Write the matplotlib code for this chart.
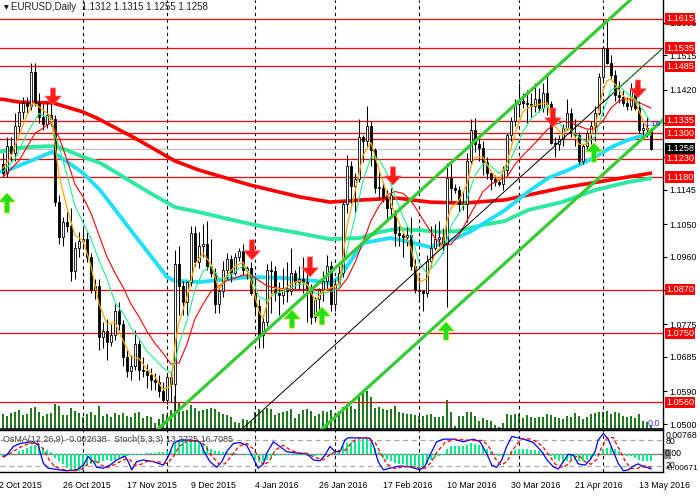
import numpy as np
import matplotlib
matplotlib.use('Agg')
import matplotlib.pyplot as plt
from matplotlib.patches import Rectangle
from matplotlib.transforms import blended_transform_factory as blend

plt.rcParams['font.family'] = ['Liberation Sans', 'DejaVu Sans']

# ---- daily EURUSD candles (bar index 0 = 5 Oct 2015) ----
opens = [1.1215,1.1190,1.1265,1.1245,1.1320,1.1360,1.1385,1.1375,1.1470,1.1385,
         1.1345,1.1325,1.1350,1.1340,1.1110,1.1015,1.1055,1.1045,1.0920,1.0985,
         1.1005,1.1010,1.0960,1.0870,1.0880,1.0740,1.0755,1.0725,1.0745,1.0810,
         1.0775,1.0685,1.0645,1.0660,1.0720,1.0650,1.0645,1.0635,1.0620,1.0615,
         1.0590,1.0565,1.0630,1.0610,1.0940,1.0880,1.0835,1.0890,1.1025,1.0945,
         1.0990,1.0995,1.0935,1.0915,1.0830,1.0865,1.0925,1.0955,1.0915,1.0960,
         1.0975,1.0925,1.0930,1.0860,1.0825,1.0745,1.0780,1.0925,1.0920,1.0860,
         1.0855,1.0875,1.0865,1.0915,1.0890,1.0900,1.0890,1.0875,1.0795,1.0845,
         1.0870,1.0895,1.0935,1.0830,1.0885,1.0915,1.1105,1.1210,1.1155,1.1175,
         1.1290,1.1280,1.1320,1.1255,1.1150,1.1150,1.1125,1.1095,1.1080,1.1025,
         1.1020,1.1015,1.1020,1.0935,1.0870,1.0865,1.0860,1.0950,1.0985,1.1010,
         1.1015,1.0995,1.1178,1.1150,1.1145,1.1105,1.1105,1.1225,1.1310,1.1270,
         1.1260,1.1220,1.1190,1.1175,1.1165,1.1160,1.1200,1.1295,1.1335,1.1380,
         1.1390,1.1385,1.1380,1.1375,1.1395,1.1370,1.1410,1.1380,1.1275,1.1270,
         1.1285,1.1315,1.1355,1.1300,1.1295,1.1225,1.1265,1.1300,1.1320,1.1355,
         1.1455,1.1535,1.1495,1.1460,1.1405,1.1400,1.1385,1.1375,1.1425,1.1370,
         1.1310,1.1315,1.1312]
highs = [1.1245,1.1290,1.1290,1.1355,1.1385,1.1400,1.1400,1.1495,1.1495,1.1410,
         1.1380,1.1385,1.1390,1.1350,1.1130,1.1070,1.1085,1.1095,1.1000,1.1030,
         1.1045,1.1030,1.0970,1.0900,1.0900,1.0780,1.0790,1.0775,1.0830,1.0835,
         1.0785,1.0705,1.0690,1.0760,1.0730,1.0685,1.0665,1.0655,1.0640,1.0635,
         1.0615,1.0640,1.0640,1.0980,1.0990,1.0895,1.0895,1.1045,1.1045,1.1030,
         1.1050,1.1060,1.1010,1.0930,1.0875,1.0950,1.0970,1.0965,1.0970,1.0985,
         1.0995,1.0935,1.0945,1.0905,1.0845,1.0800,1.0940,1.0950,1.0935,1.0890,
         1.0930,1.0945,1.0985,1.0925,1.0935,1.0960,1.0935,1.0885,1.0850,1.0875,
         1.0920,1.0965,1.0950,1.0900,1.0935,1.1115,1.1240,1.1225,1.1190,1.1340,
         1.1295,1.1376,1.1335,1.1260,1.1195,1.1165,1.1145,1.1150,1.1090,1.1045,
         1.1030,1.1045,1.1070,1.0955,1.0905,1.0870,1.0965,1.1045,1.1050,1.1060,
         1.1040,1.1218,1.1220,1.1160,1.1155,1.1140,1.1245,1.1340,1.1342,1.1285,
         1.1280,1.1235,1.1195,1.1185,1.1175,1.1210,1.1300,1.1345,1.1395,1.1440,
         1.1410,1.1420,1.1410,1.1440,1.1425,1.1440,1.1465,1.1390,1.1290,1.1295,
         1.1325,1.1395,1.1370,1.1340,1.1305,1.1270,1.1310,1.1335,1.1375,1.1465,
         1.1540,1.1616,1.1515,1.1475,1.1445,1.1420,1.1400,1.1440,1.1435,1.1390,
         1.1330,1.1345,1.1315]
lows = [1.1180,1.1180,1.1225,1.1225,1.1300,1.1340,1.1355,1.1365,1.1375,1.1330,
        1.1310,1.1315,1.1320,1.1100,1.0995,1.0990,1.1030,1.0895,1.0900,1.0960,
        1.0985,1.0945,1.0860,1.0845,1.0705,1.0710,1.0675,1.0715,1.0730,1.0760,
        1.0660,1.0630,1.0620,1.0650,1.0620,1.0630,1.0600,1.0595,1.0595,1.0575,
        1.0560,1.0555,1.0560,1.0525,1.0800,1.0800,1.0800,1.0880,1.0935,1.0930,
        1.0960,1.0925,1.0905,1.0805,1.0805,1.0850,1.0900,1.0890,1.0910,1.0950,
        1.0910,1.0900,1.0855,1.0800,1.0710,1.0710,1.0770,1.0805,1.0840,1.0800,
        1.0830,1.0835,1.0855,1.0870,1.0870,1.0860,1.0780,1.0775,1.0780,1.0810,
        1.0840,1.0870,1.0810,1.0810,1.0880,1.0905,1.1080,1.1105,1.1085,1.1165,
        1.1220,1.1265,1.1210,1.1135,1.1120,1.1110,1.1065,1.1070,1.0990,1.0990,
        1.0960,1.0990,1.0925,1.0860,1.0835,1.0810,1.0850,1.0935,1.0980,1.0990,
        1.0970,1.0822,1.1110,1.1135,1.1085,1.1090,1.1055,1.1215,1.1250,1.1225,
        1.1185,1.1175,1.1145,1.1155,1.1155,1.1145,1.1185,1.1280,1.1320,1.1345,
        1.1370,1.1330,1.1345,1.1360,1.1360,1.1360,1.1350,1.1270,1.1235,1.1255,
        1.1265,1.1310,1.1290,1.1265,1.1215,1.1215,1.1255,1.1270,1.1280,1.1350,
        1.1440,1.1490,1.1450,1.1390,1.1385,1.1375,1.1365,1.1365,1.1365,1.1300,
        1.1295,1.1290,1.1255]
closes = [1.1190,1.1265,1.1245,1.1320,1.1360,1.1385,1.1375,1.1470,1.1385,1.1345,
          1.1325,1.1350,1.1340,1.1110,1.1015,1.1055,1.1045,1.0920,1.0985,1.1005,
          1.1010,1.0960,1.0870,1.0880,1.0740,1.0755,1.0725,1.0745,1.0810,1.0775,
          1.0685,1.0645,1.0660,1.0720,1.0650,1.0645,1.0635,1.0620,1.0615,1.0590,
          1.0565,1.0630,1.0610,1.0940,1.0880,1.0835,1.0890,1.1025,1.0945,1.0990,
          1.0995,1.0935,1.0915,1.0830,1.0865,1.0925,1.0955,1.0915,1.0960,1.0975,
          1.0925,1.0930,1.0860,1.0825,1.0745,1.0780,1.0925,1.0920,1.0860,1.0855,
          1.0875,1.0865,1.0915,1.0890,1.0900,1.0890,1.0875,1.0795,1.0845,1.0870,
          1.0895,1.0935,1.0830,1.0885,1.0915,1.1105,1.1210,1.1155,1.1175,1.1290,
          1.1280,1.1320,1.1255,1.1150,1.1150,1.1125,1.1095,1.1130,1.1025,1.1020,
          1.1015,1.1020,1.0935,1.0870,1.0865,1.0860,1.0950,1.0985,1.1010,1.1015,
          1.0995,1.1178,1.1150,1.1145,1.1105,1.1105,1.1225,1.1310,1.1270,1.1260,
          1.1220,1.1190,1.1175,1.1165,1.1160,1.1200,1.1295,1.1335,1.1380,1.1390,
          1.1385,1.1380,1.1375,1.1395,1.1370,1.1410,1.1380,1.1275,1.1270,1.1285,
          1.1315,1.1355,1.1300,1.1295,1.1225,1.1265,1.1300,1.1320,1.1355,1.1455,
          1.1535,1.1495,1.1460,1.1405,1.1400,1.1385,1.1375,1.1425,1.1370,1.1310,
          1.1315,1.1312,1.1258]
volumes = [150,130,160,170,190,140,150,210,220,170,130,150,160,250,230,140,140,210,180,160,
           120,150,170,140,230,130,150,120,160,140,160,130,120,160,170,110,130,120,60,100,
           150,140,190,330,270,180,190,240,210,180,190,200,210,200,170,150,140,120,70,60,
           100,90,80,170,200,180,210,200,140,160,170,180,200,110,150,190,200,180,130,150,
           180,170,190,150,180,220,250,230,200,330,380,380,320,210,220,200,190,200,230,170,
           160,150,150,140,130,130,140,150,120,120,130,290,170,30,130,130,170,170,130,80,
           110,90,80,40,20,60,150,140,150,150,110,140,120,110,120,120,150,140,120,110,
           100,130,120,160,130,100,120,150,160,170,170,180,150,170,160,130,120,130,110,150,
           80,70,40]
osma = [-0.0006,-0.0004,-0.0002,0.0001,0.0009,0.0015,0.0021,0.0027,0.0033,0.0029,
        0.0021,0.0013,0.0006,-0.0014,-0.0026,-0.0037,-0.0049,-0.0055,-0.0061,-0.0061,
        -0.0055,-0.0043,-0.0037,-0.0037,-0.0032,-0.0026,-0.0020,-0.0023,-0.0020,-0.0014,
        -0.0014,-0.0008,-0.0005,-0.0002,-0.0005,-0.0002,0.0004,0.0005,0.0005,0.0006,
        0.0007,0.0009,0.0013,0.0039,0.0050,0.0053,0.0050,0.0050,0.0048,0.0044,
        0.0039,0.0027,0.0018,0.0012,0.0009,0.0007,0.0006,0.0004,0.0004,0.0001,
        0.0001,-0.0002,-0.0008,-0.0020,-0.0029,-0.0026,-0.0020,-0.0011,-0.0006,-0.0004,
        -0.0004,-0.0004,-0.0004,-0.0002,-0.0002,-0.0005,-0.0006,-0.0006,-0.0006,-0.0005,
        -0.0002,0.0001,0.0004,0.0006,0.0009,0.0027,0.0039,0.0044,0.0050,0.0053,
        0.0054,0.0053,0.0044,0.0021,0.0007,-0.0014,-0.0020,-0.0026,-0.0032,-0.0034,
        -0.0037,-0.0041,-0.0046,-0.0049,-0.0053,-0.0049,-0.0037,-0.0022,-0.0014,-0.0008,
        -0.0005,0.0018,0.0027,0.0029,0.0029,0.0027,0.0033,0.0039,0.0036,0.0033,
        0.0027,0.0018,0.0009,0.0001,-0.0006,-0.0008,-0.0002,0.0009,0.0015,0.0018,
        0.0018,0.0018,0.0015,0.0013,0.0009,0.0006,0.0001,-0.0008,-0.0018,-0.0026,
        -0.0029,-0.0026,-0.0020,-0.0022,-0.0026,-0.0026,-0.0022,-0.0018,-0.0008,0.0004,
        0.0018,0.0021,0.0025,0.0018,0.0009,0.0001,-0.0006,-0.0008,-0.0014,-0.0020,
        -0.0023,-0.0026,-0.0026]

# ---- moving averages, read at a few bars ----
ma_red_bars = [-0.75,4.25,12.5,20,23.5,32.5,37,43,49,61.75,74.25,81.75,90,98.5,106.75,115,125.5,139.75,162.25]
ma_red_vals = [1.1395,1.1386,1.1384,1.1359,1.1342,1.1290,1.1262,1.1224,1.1199,1.1158,1.1125,1.1111,
               1.1117,1.1122,1.1111,1.1108,1.1117,1.1150,1.1191]
ma_cyan_bars = [-0.75,1.25,7.5,12.25,13.5,20,24.25,32.5,41,43,49.25,61.75,70,78,81.75,84.25,86.75,
                90,96.75,101.75,106.75,111,116.75,125.5,131.25,136.25,141.25,145.5,148,152.25,156.25,160.5,162.25]
ma_cyan_vals = [1.1194,1.1199,1.1227,1.1249,1.1241,1.1191,1.1144,1.1026,1.0905,1.0894,1.0891,1.0905,
                1.0902,1.0894,1.0888,1.0905,1.0946,1.0998,1.1012,1.1001,1.0987,1.1001,1.1029,1.1089,
                1.1139,1.1177,1.1199,1.1221,1.1235,1.1263,1.1282,1.1296,1.1301]
ma_spring_bars = [-0.75,3.5,7.5,11.75,13.5,16,20,24.25,28.5,32.5,36.75,43,48.75,57.25,65.5,73.75,
                  81.75,89.25,94.25,98.5,103.5,109.25,113.5,120,125.5,131.25,139.75,148,156.25,162.25]
ma_spring_vals = [1.1249,1.1260,1.1263,1.1265,1.1263,1.1254,1.1235,1.1219,1.1191,1.1164,1.1136,1.1097,
                  1.1084,1.1062,1.1042,1.1026,1.1009,1.1012,1.1029,1.1037,1.1034,1.1029,1.1031,1.1048,
                  1.1059,1.1089,1.1111,1.1144,1.1166,1.1177]
orange_bars = [0,2,4,6,7.5,10,12,13,14,16,18,20,22,24,26,28,30,32,34,36,38,40,42,43,44,46,48,50,52,54,
               56,58,60,62,64,65,66,68,70,72,74,76,78,80,82,84,85,86,88,90,92,94,96,98,100,102,104,106,
               108,110,111,112,114,116,117,118,120,122,124,126,127,128,130,132,134,136,137,138,140,141,
               142,144,146,148,149,150,151,152,154,156,157,158,160,162]
orange_vals = [1.1205,1.1235,1.1295,1.1350,1.1385,1.1365,1.1345,1.1270,1.1185,1.1095,1.1020,1.1005,
               1.0935,1.0830,1.0775,1.0780,1.0730,1.0685,1.0680,1.0650,1.0630,1.0595,1.0605,1.0720,
               1.0780,1.0850,1.0940,1.0970,1.0940,1.0870,1.0910,1.0935,1.0945,1.0895,1.0810,1.0790,
               1.0830,1.0875,1.0870,1.0885,1.0895,1.0885,1.0840,1.0865,1.0875,1.0885,1.0960,1.1045,
               1.1140,1.1240,1.1275,1.1200,1.1135,1.1080,1.1030,1.0985,1.0890,1.0900,1.0970,1.0995,
               1.1060,1.1095,1.1115,1.1160,1.1210,1.1235,1.1235,1.1195,1.1170,1.1220,1.1260,1.1300,
               1.1360,1.1375,1.1380,1.1385,1.1345,1.1320,1.1295,1.1315,1.1310,1.1270,1.1270,1.1320,
               1.1365,1.1420,1.1445,1.1450,1.1420,1.1390,1.1400,1.1390,1.1335,1.1295]
green_bars = [0,3,6,9,12,13,14,16,18,20,22,24,26,28,30,32,34,36,38,40,42,43,44,46,48,50,52,54,56,58,
              60,62,64,66,68,70,72,74,76,78,80,82,84,86,88,90,92,94,96,98,100,102,104,106,108,110,112,
              114,116,118,120,122,124,126,128,130,132,134,136,138,140,142,144,146,148,150,152,154,156,
              158,160,162]
green_vals = [1.1195,1.1230,1.1300,1.1355,1.1340,1.1295,1.1265,1.1185,1.1100,1.1055,1.1010,1.0950,
              1.0900,1.0835,1.0806,1.0765,1.0735,1.0700,1.0678,1.0655,1.0640,1.0670,1.0720,1.0785,
              1.0870,1.0920,1.0935,1.0900,1.0905,1.0920,1.0935,1.0910,1.0850,1.0840,1.0860,1.0865,
              1.0875,1.0885,1.0885,1.0860,1.0860,1.0865,1.0875,1.0980,1.1070,1.1170,1.1235,1.1230,
              1.1190,1.1130,1.1070,1.1025,1.0945,1.0915,1.0940,1.0970,1.1045,1.1080,1.1120,1.1185,
              1.1215,1.1210,1.1190,1.1205,1.1255,1.1305,1.1340,1.1360,1.1375,1.1345,1.1315,1.1310,
              1.1290,1.1275,1.1290,1.1360,1.1420,1.1430,1.1410,1.1395,1.1365,1.1330]
redthin_bars = [0,4,8,12,14,16,18,20,22,24,26,28,30,32,34,36,38,40,42,44,46,48,50,52,54,56,58,60,62,
                64,66,68,72,76,80,84,86,88,90,92,94,96,98,100,102,104,106,108,110,112,114,116,118,120,
                122,124,126,128,130,132,134,136,138,140,142,144,146,148,150,152,154,156,158,160,162]
redthin_vals = [1.1180,1.1225,1.1300,1.1330,1.1290,1.1227,1.1160,1.1125,1.1080,1.1020,1.0960,1.0916,
                1.0877,1.0830,1.0795,1.0755,1.0722,1.0695,1.0665,1.0668,1.0720,1.0790,1.0830,1.0865,
                1.0880,1.0895,1.0902,1.0910,1.0910,1.0895,1.0880,1.0875,1.0870,1.0870,1.0870,1.0872,
                1.0900,1.0945,1.1000,1.1060,1.1100,1.1130,1.1140,1.1135,1.1115,1.1080,1.1045,1.1012,
                1.0990,1.0995,1.1020,1.1060,1.1100,1.1140,1.1160,1.1172,1.1180,1.1215,1.1240,1.1262,
                1.1285,1.1310,1.1325,1.1333,1.1330,1.1320,1.1312,1.1312,1.1335,1.1370,1.1390,1.1395,
                1.1390,1.1380,1.1370]

# ---- stochastic (5,3,3) ----
stoch_bars = [0,0.9,2.6,4.25,7.6,8.8,10.1,11.3,13.4,15.9,18.4,20.1,21.3,22.6,23.4,25.1,26.75,28.4,
              30.5,31.3,32.2,33.4,35.1,37.6,40.1,41.3,42.6,44.25,46.75,49.25,50.5,51.75,53.4,54.7,
              55.9,57.6,59.25,60.9,62.2,63,63.8,65.1,65.9,67.6,69.25,70.9,72.6,74.25,75.9,77.6,79.25,
              80.5,81.75,83,84.25,85.5,86.3,89.25,91.75,92.6,93.8,95.1,96.75,99.25,101.75,104.25,
              105.5,106.75,108.4,110.1,112.6,115.1,117.6,119.25,120.9,122.2,123.4,124.7,125.9,127.2,
              128.8,130.9,132.6,134.7,136,137.6,138.8,140.1,141.3,142.6,143.8,145.5,146.75,148,148.8,
              150.1,151.3,152.6,153.8,155.1,156.3,157.6,158.8,160.1,161,162]
stoch_main = [42,45,65,72,76,68,26,15,12,9,11,22,42,30,17,15,22,34,43,30,11,30,34,30,22,42,72,80,80,
              76,49,30,17,30,53,72,74,68,45,30,15,25,49,76,65,53,51,49,49,34,32,45,65,53,53,80,85,85,
              84,68,30,11,15,20,18,11,20,45,76,82,82,76,82,76,49,22,17,34,65,88,85,80,74,53,34,18,13,
              30,47,45,25,22,34,53,80,95,82,53,26,9,11,20,25,18,17,13.3]
signal_bars = [0,2,4,6,8.5,10,11.5,13,15.5,18,20,21.5,23,24.5,26,28,30,31.5,33,34.5,36,38.5,41,42.5,
               44,46,48.5,50.5,52,54,55.5,57,59,61,62.5,64,65,66.5,68,70,72,74,76,78,80,82,84,85.5,87,
               88.5,91,93,94.5,96,98,100,102,104,105.5,107,108.5,110.5,113,115.5,118,120,121.5,123,
               124.5,126,127.5,129.5,131.5,133.5,135,136.5,138,139.5,141,142.5,144,145.5,147,148.5,
               149.5,151,152.5,154,155.5,157,158.5,160,161,162]
signal_vals = [40,50,62,70,74,60,35,18,11,9,14,28,33,22,16,24,34,36,22,24,31,30,26,40,65,78,79,68,45,
               25,25,42,66,72,60,40,22,30,56,68,56,50,49,40,34,48,56,56,72,84,85,75,48,24,14,18,19,15,
               15,28,52,74,82,80,79,79,64,38,22,30,58,82,83,76,64,45,25,17,22,38,44,30,24,36,60,85,86,
               60,32,14,14,20,20,16.7]

# ---- drawn objects ----
levels = [1.1615, 1.1535, 1.1485, 1.1335, 1.1300, 1.1285, 1.1230, 1.1180, 1.0870, 1.0750, 1.0560]
level_labels = ['1.1615', '1.1535', '1.1485', '1.1335', '1.1300', '', '1.1230', '1.1180', '1.0870', '1.0750', '1.0560']
last_price = 1.1258
price_ticks = [1.0500, 1.0590, 1.0685, 1.0775, 1.0870, 1.0960, 1.1050, 1.1145, 1.1235, 1.1330, 1.1420, 1.1515, 1.1605]
hidden_ticks = [1.0870, 1.1235, 1.1330]   # covered by the level boxes
chan_a = ([38.0, 165.0], [1.0479, 1.1749])
chan_b = ([79.0, 165.0], [1.0479, 1.1337])
chan_mid = ([59.0, 165.0], [1.0479, 1.1535])
red_arrow_bar = [12.5, 62.25, 76.75, 97.5, 137.5, 158.75]
red_arrow_top = [1.1425, 1.1007, 1.0960, 1.1208, 1.1370, 1.1447]
red_arrow_tip = [1.1378, 1.0952, 1.0905, 1.1158, 1.1318, 1.1398]
green_arrow_bar = [1, 72.25, 79.75, 110.75, 147.75]
green_arrow_base = [1.1081, 1.0764, 1.0773, 1.0731, 1.1221]
green_arrow_tip = [1.1136, 1.0814, 1.0822, 1.0781, 1.1274]
month_bars = [20, 41, 63, 83, 104, 129, 150]
date_bars = [-1, 15, 31, 47, 63, 79, 95, 111, 127, 143, 159]
date_labels = ['2 Oct 2015', '26 Oct 2015', '17 Nov 2015', '9 Dec 2015', '4 Jan 2016', '26 Jan 2016',
               '17 Feb 2016', '10 Mar 2016', '30 Mar 2016', '21 Apr 2016', '13 May 2016']

n = len(closes)
assert len(opens) == len(highs) == len(lows) == n == len(volumes) == len(osma)

W, H = 700, 496
fig = plt.figure(figsize=(7, 4.96), dpi=100)
fig.patch.set_facecolor('white')


def fx(px):
    return px / W


def fy(py):
    return 1 - py / H


ax = fig.add_axes([0, fy(429), fx(663), 429 / H])
axv = ax.twinx()
ax.set_zorder(axv.get_zorder() + 1)
ax.patch.set_visible(False)
axv.set_ylim(0, 4290)
axv.axis('off')

x = np.arange(n)
axv.bar(x, volumes, width=0.3, color='#1f7a1f')

ax.set_xlim(-0.75, 165)
ax.set_ylim(1.04863, 1.16673)

for b in month_bars:
    ax.axvline(b, color='black', lw=0.8, dashes=(3, 3), zorder=1)

for lv in levels:
    ax.axhline(lv, color='#ff0000', lw=0.9, zorder=2)
ax.axhline(last_price, color='#c0c0c0', lw=0.9, zorder=2)

# thick averages
ax.plot(ma_red_bars, ma_red_vals, color='#ff0000', lw=2.6, zorder=3, solid_capstyle='butt')
ax.plot(ma_spring_bars, ma_spring_vals, color='#2ee8a0', lw=2.8, zorder=3, solid_capstyle='butt')
ax.plot(ma_cyan_bars, ma_cyan_vals, color='#20e0f8', lw=2.8, zorder=3, solid_capstyle='butt')

# candles
o = np.array(opens)
c = np.array(closes)
ax.vlines(x, lows, highs, color='black', lw=0.75, zorder=4)
body_low = np.minimum(o, c)
body_h = np.maximum(np.abs(c - o), 0.00012)
face = np.where(c >= o, 'white', 'black')
ax.bar(x, body_h, bottom=body_low, width=0.6, color=face, edgecolor='black', linewidth=0.6, zorder=5)

# thin averages
ax.plot(redthin_bars, redthin_vals, color='#ff0000', lw=0.8, zorder=6)
ax.plot(green_bars, green_vals, color='#22ee88', lw=0.8, zorder=6)
ax.plot(orange_bars, orange_vals, color='#ffa500', lw=0.9, zorder=6)

# channel
ax.plot(*chan_a, color='#33cc33', lw=2.3, zorder=7)
ax.plot(*chan_b, color='#33cc33', lw=2.3, zorder=7)
ax.plot(*chan_mid, color='black', lw=0.7, zorder=7)
ax.plot([152, 165], [1.1405, 1.1535], color='#33cc33', lw=0.9, dashes=(1.5, 1.5), zorder=7)

for b, top, tip in zip(red_arrow_bar, red_arrow_top, red_arrow_tip):
    ax.annotate('', xy=(b, tip), xytext=(b, top), zorder=9,
                arrowprops=dict(facecolor='#ff1a1a', edgecolor='#ff6a6a', lw=0.5,
                                width=3.6, headwidth=12, headlength=6.5, shrink=0))
for b, base, tip in zip(green_arrow_bar, green_arrow_base, green_arrow_tip):
    ax.annotate('', xy=(b, tip), xytext=(b, base), zorder=9,
                arrowprops=dict(facecolor='#1fe01f', edgecolor='#b8f000', lw=0.5,
                                width=3.6, headwidth=12, headlength=6.5, shrink=0))

# price axis
ax.yaxis.tick_right()
ax.set_yticks(price_ticks)
ax.set_yticklabels(['' if t in hidden_ticks else f'{t:.4f}' for t in price_ticks])
ax.tick_params(axis='y', direction='out', length=3, width=0.8, pad=1.5, labelsize=6.4, colors='black')
ax.set_xticks([])
for side in ['left', 'top']:
    ax.spines[side].set_visible(False)
ax.spines['right'].set_linewidth(1.0)
ax.spines['bottom'].set_linewidth(1.2)

tr = blend(ax.transAxes, ax.transData)
for lv, lab in zip(levels, level_labels):
    if lab:
        ax.text(666 / 663, lv, lab, transform=tr, ha='left', va='center', fontsize=6.6, color='white',
                zorder=20, clip_on=False,
                bbox=dict(boxstyle='square,pad=0.12', fc='#ff0000', ec='none'))
ax.text(666 / 663, last_price, f'{last_price:.4f}', transform=tr, ha='left', va='center', fontsize=6.6,
        color='white', zorder=21, clip_on=False,
        bbox=dict(boxstyle='square,pad=0.12', fc='black', ec='none'))

# ---- OsMA + Stoch window ----
ax2 = fig.add_axes([0, fy(472), fx(663), 42 / H])
ax2.set_xlim(-0.75, 165)
ax2.set_ylim(-0.00636, 0.00848)
ax2.bar(x, osma, width=0.7, color='#00f08a', zorder=2)
ax2.axhline(0, color='#808080', lw=1.0, zorder=1)
for b in month_bars:
    ax2.axvline(b, color='black', lw=0.8, dashes=(3, 3), zorder=1)
ax2.set_xticks([])
ax2.set_yticks([])
ax2.spines['left'].set_visible(False)
for side in ['top', 'right', 'bottom']:
    ax2.spines[side].set_linewidth(1.0)

ax3 = ax2.twinx()
ax3.set_ylim(6.15, 103.1)
ax3.axis('off')
ax3.axhline(80, color='#a8a8a8', lw=0.9, dashes=(4, 3))
ax3.axhline(20, color='#a8a8a8', lw=0.9, dashes=(4, 3))
ax3.plot(stoch_bars, stoch_main, color='#0000ff', lw=0.9)
ax3.plot(signal_bars, signal_vals, color='#ff0000', lw=0.9, dashes=(3, 2))

tr2 = blend(ax2.transData, ax2.transAxes)
for b, lab in zip(date_bars, date_labels):
    ax2.text(b, -0.31, lab, transform=tr2, ha='left', va='center', fontsize=6.3, clip_on=False)

# ---- texts ----
fig.text(fx(4), fy(8), '\u25bc', fontsize=4.5, va='center', ha='left', family=['DejaVu Sans'])
fig.text(fx(11), fy(7), 'EURUSD,Daily  1.1312 1.1315 1.1255 1.1258', fontsize=7, va='center', ha='left',
         color='#202020')
fig.text(fx(3), fy(439), 'OsMA(12,26,9) -0.002638   Stoch(5,3,3) 13.2725 16.7085', fontsize=6.4,
         va='center', ha='left', color='#404040', zorder=30)
fig.text(fx(648), fy(423), '0.0', fontsize=6.5, va='center', ha='left', color='#3030ff')
fig.text(fx(644), fy(124), '1.16', fontsize=6, va='center', ha='left', color='#3030ff', zorder=30)

fig.add_artist(Rectangle((fx(664), fy(459)), 7 / W, 10 / H, transform=fig.transFigure,
                         fc='#8c8c8c', ec='none'))
fig.text(fx(666), fy(436), '0.00768', fontsize=6.3, va='center', ha='left')
fig.text(fx(666), fy(441), '80', fontsize=6.3, va='center', ha='left')
fig.text(fx(665), fy(454), '0.00', fontsize=6.3, va='center', ha='left')
fig.text(fx(666), fy(465), '20', fontsize=6.3, va='center', ha='left')
fig.text(fx(666), fy(469), '-0.00671', fontsize=5.9, va='center', ha='left')

fig.savefig('out.png', dpi=100)
